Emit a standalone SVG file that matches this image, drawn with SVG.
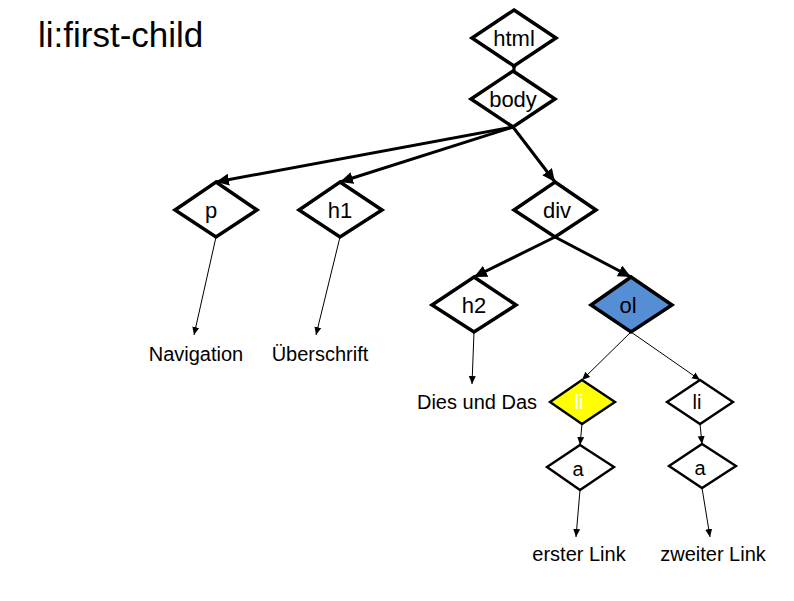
<svg xmlns="http://www.w3.org/2000/svg" width="794" height="601" viewBox="0 0 794 601">
<defs>
<marker id="ah" markerUnits="userSpaceOnUse" markerWidth="14" markerHeight="12" refX="13" refY="6" orient="auto">
<path d="M0,0 L13,6 L0,12 z" fill="#000"/>
</marker>
<marker id="at" markerUnits="userSpaceOnUse" markerWidth="8" markerHeight="8" refX="8" refY="4" orient="auto">
<path d="M0,0.5 L8,4 L0,7.5 z" fill="#000"/>
</marker>
</defs>
<style>
text{font-family:"Liberation Sans",Arial,sans-serif;fill:#000}
.n{fill:#fff;stroke:#000;stroke-width:3.5;stroke-linejoin:miter}
.s{fill:#fff;stroke:#000;stroke-width:2.4;stroke-linejoin:miter}
.lbl{font-size:22px;text-anchor:middle}
.sl{font-size:20px;text-anchor:middle}
.t{font-size:20px;text-anchor:middle}
.thick{stroke:#000;stroke-width:3;fill:none;marker-end:url(#ah)}
.thin{stroke:#000;stroke-width:1;fill:none;marker-end:url(#at)}
</style>
<rect width="794" height="601" fill="#fff"/>
<text x="38" y="47" font-size="35" style="font-family:'Liberation Sans',Arial,sans-serif">li:first-child</text>

<g id="connectors">
<line class="thick" x1="514" y1="66" x2="514" y2="71"/>
<line class="thick" x1="513" y1="127" x2="216" y2="182"/>
<line class="thick" x1="513" y1="127" x2="340" y2="182"/>
<line class="thick" x1="513" y1="127" x2="555" y2="182"/>
<line class="thick" x1="555" y1="237" x2="474" y2="277"/>
<line class="thick" x1="555" y1="237" x2="631" y2="277"/>
<line class="thin" x1="216" y1="237" x2="194" y2="335"/>
<line class="thin" x1="340" y1="237" x2="316" y2="335"/>
<line class="thin" x1="474" y1="332" x2="472" y2="384"/>
<line class="thin" x1="631" y1="332" x2="582" y2="380"/>
<line class="thin" x1="631" y1="332" x2="700" y2="380"/>
<line class="thin" x1="582" y1="424" x2="580" y2="445"/>
<line class="thin" x1="700" y1="424" x2="702" y2="444"/>
<line class="thin" x1="580" y1="490" x2="576" y2="537"/>
<line class="thin" x1="702" y1="488" x2="710" y2="537"/>
</g>

<g id="html"><polygon class="n" points="514,10 556,38 514,66 472,38"/><text class="lbl" x="514" y="46">html</text></g>
<g id="body"><polygon class="n" points="513,71 555,99 513,127 471,99"/><text class="lbl" x="513" y="107">body</text></g>
<g id="p"><polygon class="n" points="216,182 257,210 216,237 175,210"/><text class="lbl" x="211" y="218">p</text></g>
<g id="h1"><polygon class="n" points="340,182 382,210 340,237 299,210"/><text class="lbl" x="340" y="218">h1</text></g>
<g id="div"><polygon class="n" points="555,182 596,210 555,237 514,210"/><text class="lbl" x="557" y="218">div</text></g>
<g id="h2"><polygon class="n" points="474,277 516,305 474,332 432,305"/><text class="lbl" x="474" y="313">h2</text></g>
<g id="ol"><polygon class="n" points="631,277 672,305 631,332 591,305" style="fill:#558ed5"/><text class="lbl" x="628" y="313">ol</text></g>
<g id="li1"><polygon class="s" points="582,380 615,402 582,424 550,402" style="fill:#ffff00"/><text class="sl" x="579" y="409" style="fill:#fff">li</text></g>
<g id="li2"><polygon class="s" points="700,380 733,402 700,424 667,402"/><text class="sl" x="697" y="409">li</text></g>
<g id="a1"><polygon class="s" points="580,445 614,467 580,490 547,467"/><text class="sl" x="578" y="476">a</text></g>
<g id="a2"><polygon class="s" points="702,444 736,466 702,488 669,466"/><text class="sl" x="700" y="475">a</text></g>

<g id="texts">
<text class="t" x="196" y="361">Navigation</text>
<text class="t" x="320" y="361">Überschrift</text>
<text class="t" x="477" y="409">Dies und Das</text>
<text class="t" x="579" y="561">erster Link</text>
<text class="t" x="713" y="561">zweiter Link</text>
</g>
</svg>
